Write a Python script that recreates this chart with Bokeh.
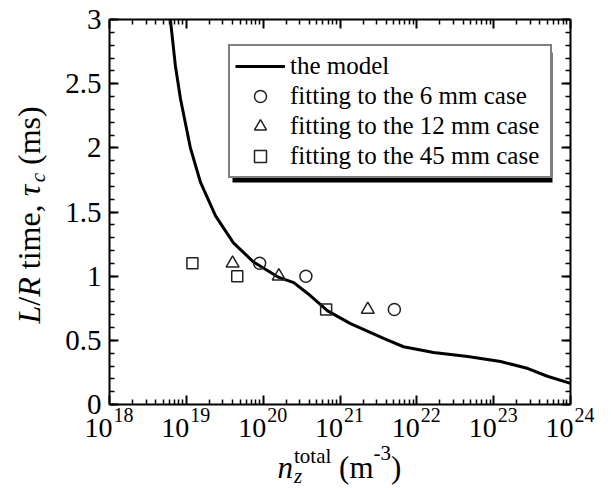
import numpy as np
from bokeh.plotting import figure
from bokeh.models import (Label, Legend, LegendItem, LinearAxis, LogAxis, Range1d,
                          FixedTicker, SingleIntervalTicker, CustomJSTickFormatter, BoxAnnotation)
from bokeh.embed import file_html
from bokeh.resources import INLINE

# ---------------- data ----------------
model_n = [6.2e18, 7.2e18, 8.4e18, 1.13e19, 1.53e19, 2.4e19, 4.1e19, 7.5e19, 1.6e20,
           2.5e20, 3.8e20, 6.9e20, 1.37e21, 3.7e21, 6.7e21, 1.65e22, 4.6e22, 1.23e23,
           2.8e23, 5.0e23, 1.0e24]
model_tau = [3.0, 2.64, 2.38, 2.0, 1.73, 1.47, 1.26, 1.11, 0.99,
             0.95, 0.865, 0.73, 0.63, 0.515, 0.45, 0.405, 0.374, 0.335,
             0.28, 0.22, 0.165]

fit6_n = [9.0e19, 3.6e20, 5.1e21]
fit6_tau = [1.10, 1.00, 0.74]
fit12_n = [4.0e19, 1.6e20, 2.3e21]
fit12_tau = [1.10, 1.00, 0.74]
fit45_n = [1.2e19, 4.6e19, 6.6e20]
fit45_tau = [1.10, 1.00, 0.74]

x_tick_exponents = [18, 19, 20, 21, 22, 23, 24]
y_ticks = [0, 0.5, 1, 1.5, 2, 2.5, 3]
y_tick_labels = ["0", "0.5", "1", "1.5", "2", "2.5", "3"]

legend_labels = ["the model", "fitting to the 6 mm case",
                 "fitting to the 12 mm case", "fitting to the 45 mm case"]

FONT = "Liberation Serif"

# ---------------- layout (pixels) ----------------
W, H = 611, 488
X_LO, X_HI = 1e18, 1e24
Y_LO, Y_HI = 0.0, 3.0
BOX_L, BOX_R, BOX_T, BOX_B = 109, 570, 19, 404    # where the axes box sits on the canvas
dec_px = (BOX_R - BOX_L) / np.log10(X_HI / X_LO)
unit_px = (BOX_B - BOX_T) / (Y_HI - Y_LO)
x_start = 10 ** (np.log10(X_LO) - BOX_L / dec_px)
x_end = 10 ** (np.log10(X_HI) + (W - BOX_R) / dec_px)
y_start = Y_LO - (H - BOX_B) / unit_px
y_end = Y_HI + BOX_T / unit_px

p = figure(width=W, height=H, x_axis_type="log",
           x_range=Range1d(x_start, x_end), y_range=Range1d(y_start, y_end),
           output_backend="svg", toolbar_location=None, min_border=0)
p.title.visible = False
p.xgrid.visible = False
p.ygrid.visible = False
p.outline_line_color = None
p.background_fill_color = "white"
p.border_fill_color = "white"

x_major = [10.0 ** e for e in x_tick_exponents]
x_minor = [k * 10.0 ** e for e in x_tick_exponents[:-1] for k in range(2, 10)]
xticker = FixedTicker(ticks=x_major, minor_ticks=x_minor)
yticker = SingleIntervalTicker(interval=0.5, num_minor_ticks=5)
blank = CustomJSTickFormatter(code="return ''")

p.xaxis.ticker = xticker
p.xaxis.fixed_location = Y_LO
p.yaxis.ticker = yticker
p.yaxis.fixed_location = X_LO
p.add_layout(LogAxis(ticker=xticker, fixed_location=Y_HI), "above")
p.add_layout(LinearAxis(ticker=yticker, fixed_location=X_HI), "right")

for ax in p.axis:
    ax.formatter = blank
    ax.major_label_text_font_size = "0px"
    ax.major_label_standoff = 0
    ax.axis_line_width = 2
    ax.axis_line_color = "black"
    ax.major_tick_line_width = 2
    ax.minor_tick_line_width = 1.5
    ax.major_tick_in = 9
    ax.major_tick_out = 0
    ax.minor_tick_in = 5
    ax.minor_tick_out = 0
for ax in p.xaxis:
    ax.bounds = (X_LO, X_HI)
for ax in p.yaxis:
    ax.bounds = (Y_LO, Y_HI)

# ---------------- glyphs ----------------
r_model = p.line(model_n, model_tau, line_color="black", line_width=3)
r6 = p.scatter(fit6_n, fit6_tau, marker="circle", size=12, fill_color=None,
               line_color="#222222", line_width=1.5)
r12 = p.scatter(fit12_n, fit12_tau, marker="triangle", size=13, fill_color=None,
                line_color="#222222", line_width=1.5)
r45 = p.scatter(fit45_n, fit45_tau, marker="square", size=11, fill_color=None,
                line_color="#222222", line_width=1.5)

# ---------------- legend ----------------
LG_PAD, LG_GW, LG_STAND, LG_LW, LG_ROW = 5, 50, 5, 255, 30
LG_L, LG_B = 228, 178                              # canvas px of the legend box
LG_W = 2 * LG_PAD + LG_GW + LG_STAND + LG_LW
LG_H = 2 * LG_PAD + 4 * LG_ROW
SH = 4                                             # shadow offset
shadow = BoxAnnotation(left=LG_L + SH, right=LG_L + LG_W + SH,
                       bottom=H - LG_B - SH, top=H - LG_B + LG_H - SH,
                       left_units="screen", right_units="screen",
                       top_units="screen", bottom_units="screen",
                       fill_color="black", fill_alpha=1.0, line_color=None)
p.add_layout(shadow)

legend = Legend(items=[LegendItem(label=legend_labels[0], renderers=[r_model]),
                       LegendItem(label=legend_labels[1], renderers=[r6]),
                       LegendItem(label=legend_labels[2], renderers=[r12]),
                       LegendItem(label=legend_labels[3], renderers=[r45])],
                location=(LG_L, H - LG_B), margin=0, padding=LG_PAD, spacing=0,
                glyph_width=LG_GW, glyph_height=LG_ROW, label_height=LG_ROW,
                label_width=LG_LW, label_standoff=LG_STAND,
                label_text_font=FONT, label_text_font_size="25px",
                label_text_color="black",
                border_line_color="black", border_line_width=2,
                background_fill_color="white", background_fill_alpha=1.0)
p.add_layout(legend)

# ---------------- text helpers ----------------
REG = {' ': 250, '(': 333, ')': 333, '-': 333, '.': 250, ',': 250, '/': 278,
       'a': 444, 'c': 444, 'e': 444, 'i': 278, 'l': 278, 'm': 778, 'o': 500,
       's': 389, 't': 278, 'L': 611, 'R': 667}
for d in "0123456789":
    REG[d] = 500
ITA = {'L': 556, 'R': 611, 'n': 500, 'z': 389, 'c': 444, 'τ': 440}
MID = 0.3375   # distance from alphabetic baseline to the text's middle, in em


def tw(s, size, italic=False):
    tab = ITA if italic else REG
    return sum(tab.get(ch, 500) for ch in s) * size / 1000.0


def lab(text, x, y, size, italic=False, align="left", xu="screen", yu="screen",
        angle=0.0, x_offset=0):
    p.add_layout(Label(x=x, y=y, x_units=xu, y_units=yu, text=text,
                       x_offset=x_offset,
                       text_font=FONT, text_font_size=f"{size}px",
                       text_font_style="italic" if italic else "normal",
                       text_color="black", text_align=align,
                       text_baseline="middle", angle=angle))


def hlab(text, x_page, base_page, size, italic=False, align="left", xu="screen",
         x_offset=0):
    """horizontal text whose alphabetic baseline sits at canvas row base_page"""
    lab(text, x_page, H - base_page + MID * size, size, italic=italic, align=align,
        xu=xu, x_offset=x_offset)


# y tick labels
for v, t in zip(y_ticks, y_tick_labels):
    lab(t, X_LO, v, 29, align="right", xu="data", yu="data", x_offset=-8)

# x tick labels: 10^n
for e in x_tick_exponents:
    hlab("10", 10.0 ** e, 437, 28, align="right", xu="data", x_offset=3)
    hlab(str(e), 10.0 ** e, 421, 20, align="left", xu="data", x_offset=4)

# x axis label: n_z^total (m^-3)
fx, fs = 31, 21
base = 477
x = 277
hlab("n", x, base, fx, italic=True)
x += tw("n", fx, True) + 1
hlab("z", x, base + 6, fs, italic=True)
hlab("total", x, base - 14, fs)
x += max(tw("z", fs, True), tw("total", fs)) + tw(" ", fx)
hlab("(m", x, base, fx)
x += tw("(m", fx)
hlab("-3", x, base - 17, fs)
x += tw("-3", fs)
hlab(")", x, base, fx)

# y axis label: L/R time, tau_c (ms)  (rotated, reads bottom to top)
fy, fsub = 32, 21
bx = 39                     # canvas column of the rotated text's baseline
ang = np.pi / 2
y = H - 323
for txt, it, pre, post in [("L", True, 0, 0), ("/", False, 0, 0), ("R", True, 0, 0),
                           ("time,", False, 1, 1), ("τ", True, 0, 0)]:
    y += pre * tw(" ", fy)
    lab(txt, bx - MID * fy, y, fy, italic=it, angle=ang)
    y += tw(txt, fy, it) + post * tw(" ", fy)
lab("c", bx + 6 - MID * fsub, y, fsub, italic=True, angle=ang)
y += tw("c", fsub, True) + tw(" ", fy)
lab("(ms)", bx - MID * fy, y, fy, angle=ang)

open("out.html", "w").write(file_html(p, INLINE))
